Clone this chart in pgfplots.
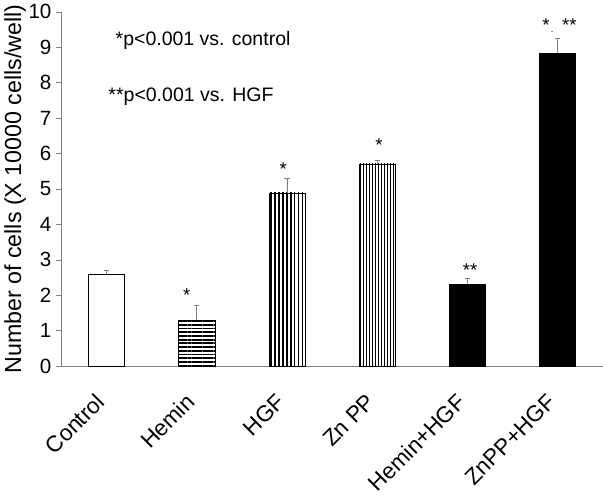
\documentclass[border=0pt]{standalone}
\usepackage{fontspec}
\setmainfont{Liberation Sans}
\usepackage{pgfplots}
\pgfplotsset{compat=1.18}
\usetikzlibrary{patterns.meta}
\begin{document}
\begin{tikzpicture}
\begin{axis}[
  scale only axis,
  width=408pt, height=267pt,
  xmin=-0.5, xmax=5.5, ymin=0, ymax=10,
  axis x line=bottom, axis y line=left,
  axis line style={-, gray},
  tick align=outside,
  tick style={gray, thin},
  ytick={0,...,10},
  xtick={0,...,5},
  xticklabels={Control,Hemin,HGF,Zn PP,Hemin+HGF,ZnPP+HGF},
  x tick style={draw=none},
  extra x ticks={-0.5,0.5,1.5,2.5,3.5,4.5,5.5},
  extra x tick labels={},
  extra x tick style={tick style={gray, thin}, major tick length=5pt},
  major tick length=4pt,
  /pgf/number format/assume math mode=true,
  yticklabel style={font=\fontsize{15.5}{18}\selectfont},
  xticklabel style={font=\fontsize{17}{20}\selectfont, rotate=45, anchor=east, yshift=-11pt, xshift=-14pt},
  ylabel={Number of cells (X 10000 cells/well)},
  ylabel style={font=\fontsize{17.5}{20}\selectfont, yshift=-5pt},
  ybar, bar width=0.4, bar shift=0pt,
  error bars/y dir=plus, error bars/y explicit,
  error bars/error bar style={gray, thin},
  error bars/error mark options={gray, rotate=90, mark size=2pt},
  clip=false,
]
\addplot[draw=black, fill=white] coordinates {(0,2.6) +- (0,0.1)};
\addplot[draw=black, pattern={Lines[angle=0,distance=2.8pt,line width=1.4pt]}] coordinates {(1,1.3) +- (0,0.42)};
\addplot[draw=black, pattern={Lines[angle=90,distance=3pt,line width=1.4pt]}] coordinates {(2,4.89) +- (0,0.42)};
\addplot[draw=black, pattern={Lines[angle=90,distance=2.3pt,line width=0.6pt]}] coordinates {(3,5.71) +- (0,0.11)};
\addplot[draw=black, fill=black] coordinates {(4,2.32) +- (0,0.16)};
\addplot[draw=black, fill=black] coordinates {(5,8.83) +- (0,0.43)};
\begin{scope}[font=\fontsize{14.7}{17}\selectfont]
\node[anchor=west] at (axis cs:0.05,9.2) {*p<0.001 vs. control};
\node[anchor=west] at (axis cs:-0.03,7.6) {**p<0.001 vs. HGF};
\end{scope}
\begin{scope}[font=\fontsize{14}{16}\selectfont]
\node at (axis cs:0.89,2.0) {*};
\node at (axis cs:1.96,5.56) {*};
\node at (axis cs:3.02,6.24) {*};
\node at (axis cs:4.03,2.71) {**};
\node at (axis cs:4.87,9.63) {*};
\node at (axis cs:5.13,9.63) {**};
\node[font=\fontsize{7}{8}\selectfont] at (axis cs:4.94,9.42) {.};
\end{scope}
\end{axis}
\end{tikzpicture}
\end{document}
